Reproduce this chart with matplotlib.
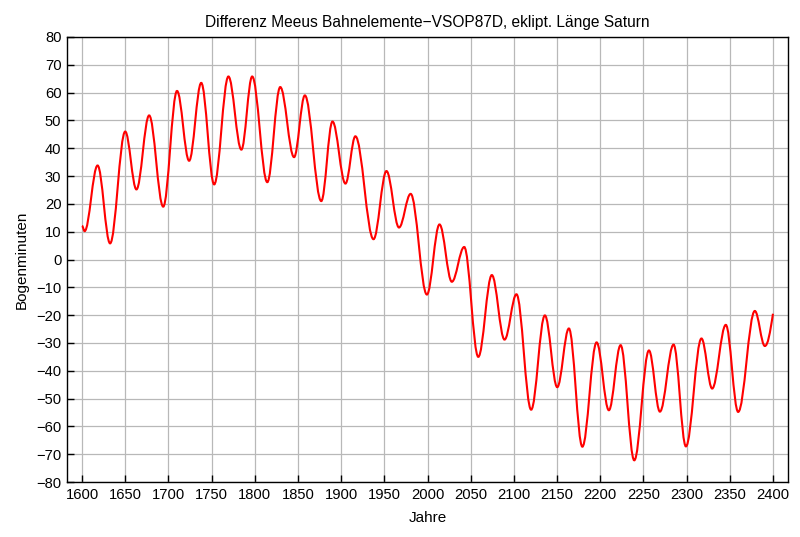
import matplotlib
matplotlib.use("Agg")
import matplotlib.pyplot as plt
from matplotlib.path import Path
from matplotlib.patches import PathPatch

plt.rcParams['font.family'] = ['Liberation Sans', 'DejaVu Sans']

# turning points of the curve (year, arc minutes)
years = [1600, 1603, 1618, 1632.5, 1650, 1663, 1677.7, 1694, 1710, 1724,
         1738, 1753, 1769.5, 1784.5, 1797, 1814.5, 1829.5, 1845.5, 1858, 1877,
         1890, 1905, 1916.5, 1937.5, 1952.5, 1967, 1980.5, 1999.3, 2013.9, 2028.2,
         2042.5, 2058.8, 2074.5, 2089.2, 2103, 2120, 2135.9, 2150.2, 2163.7, 2179.3,
         2195.8, 2210, 2223.6, 2239.4, 2256.4, 2269.1, 2284.9, 2299.2, 2317.2, 2329.6,
         2345.4, 2359.7, 2379, 2390.6, 2400]
arcmin = [12.1, 10.2, 33.8, 5.8, 46.0, 25.2, 51.8, 19.0, 60.6, 35.5,
          63.5, 27.0, 65.8, 39.5, 65.8, 27.8, 62.0, 36.8, 59.0, 21.0,
          49.6, 27.3, 44.3, 7.3, 31.8, 11.5, 23.6, -12.6, 12.6, -8.0,
          4.5, -35.0, -5.6, -28.8, -12.5, -54.0, -20.1, -45.9, -24.8, -67.3,
          -29.8, -54.2, -30.8, -72.2, -32.7, -54.7, -30.6, -67.2, -28.4, -46.4,
          -23.5, -54.8, -18.5, -31.1, -19.5]

xticks = list(range(1600, 2401, 50))
yticks = list(range(-80, 81, 10))

fig = plt.figure(figsize=(8, 5.37), dpi=100)
ax = fig.add_axes([0.08375, 0.1024, 0.90125, 0.8287])

# smooth curve: cubic segments with flat tangents at the turning points
k = 0.3634
verts = [(years[0], arcmin[0])]
codes = [Path.MOVETO]
n = len(years)
for i in range(n - 1):
    x0, y0 = years[i], arcmin[i]
    x1, y1 = years[i + 1], arcmin[i + 1]
    dx = x1 - x0
    c2y = y1 if i < n - 2 else y1 - 0.6 * (y1 - y0)
    verts += [(x0 + k * dx, y0), (x1 - k * dx, c2y), (x1, y1)]
    codes += [Path.CURVE4] * 3
ax.add_patch(PathPatch(Path(verts, codes), facecolor='none',
                       edgecolor='#ff0000', lw=1.5, zorder=3))

ax.set_xlim(1582.6, 2417.4)
ax.set_ylim(-80, 80)
ax.set_xticks(xticks)
ax.set_yticks(yticks)
ax.grid(True, color='#b8b8b8', lw=0.9)
ax.set_axisbelow(True)
ax.tick_params(direction='in', length=5, width=1, labelsize=10.6, color='black')
ax.tick_params(axis='x', pad=4)
ax.tick_params(axis='y', pad=4)
for s in ax.spines.values():
    s.set_linewidth(1.0)

ax.set_title("Differenz Meeus Bahnelemente\u2212VSOP87D, eklipt. L\u00e4nge Saturn",
             fontsize=11.2, pad=7.5)
ax.set_xlabel("Jahre", fontsize=11, labelpad=7)
ax.set_ylabel("Bogenminuten", fontsize=11, labelpad=5)

plt.savefig('out.png', dpi=100)
